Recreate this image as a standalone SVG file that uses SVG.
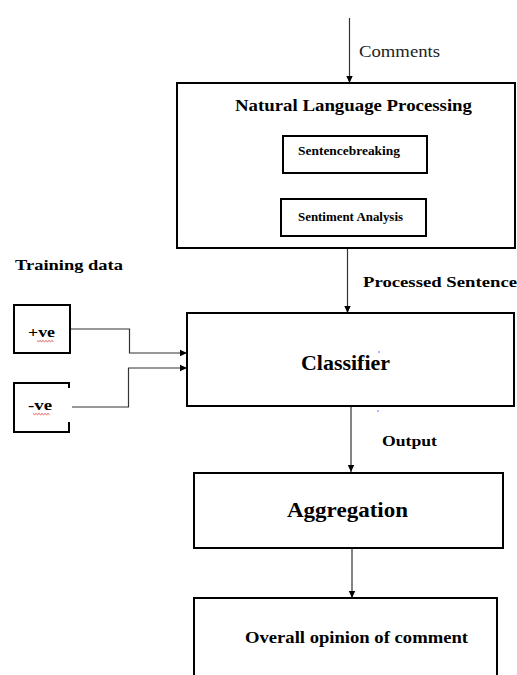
<svg xmlns="http://www.w3.org/2000/svg" width="517" height="675" viewBox="0 0 517 675">
<style>
.box{fill:#fff;stroke:#000;stroke-width:2}
.sub{fill:#fff;stroke:#000;stroke-width:2}
.ln{fill:none;stroke:#333;stroke-width:1.2}
.t{font-family:"Liberation Serif","Times New Roman",serif;font-weight:bold;fill:#000}
.n{font-family:"Liberation Serif","Times New Roman",serif;fill:#222}
.sq{fill:none;stroke:#e03030;stroke-width:0.8}
</style>
<defs>
<marker id="ah" markerWidth="8" markerHeight="8" refX="7" refY="4" orient="auto" markerUnits="userSpaceOnUse">
<path d="M0,0.8 L7,4 L0,7.2 Z" fill="#000"/>
</marker>
</defs>
<rect width="517" height="675" fill="#fff"/>
<g id="connectors">
<line class="ln" x1="349.5" y1="18" x2="349.5" y2="83" marker-end="url(#ah)"/>
<line class="ln" x1="347.5" y1="248" x2="347.5" y2="313" marker-end="url(#ah)"/>
<line class="ln" x1="351" y1="406" x2="351" y2="472" marker-end="url(#ah)"/>
<line class="ln" x1="352" y1="548" x2="352" y2="598" marker-end="url(#ah)"/>
<path class="ln" d="M70,329 H129.5 V353 H187" marker-end="url(#ah)"/>
<path class="ln" d="M72,407 H128.5 V368 H187" marker-end="url(#ah)"/>
</g>
<g id="comments-label"><text class="n" x="359" y="57" font-size="16" textLength="81" lengthAdjust="spacingAndGlyphs">Comments</text></g>
<g id="nlp">
<rect class="box" x="177" y="83" width="338" height="165"/>
<text class="t" x="235" y="111" font-size="16" textLength="237" lengthAdjust="spacingAndGlyphs">Natural Language Processing</text>
</g>
<g id="sentence-breaking">
<rect class="sub" x="283" y="136" width="144" height="37"/>
<text class="t" x="298" y="155" font-size="12" textLength="102" lengthAdjust="spacingAndGlyphs">Sentencebreaking</text>
</g>
<g id="sentiment-analysis">
<rect class="sub" x="281" y="199" width="145" height="37"/>
<text class="t" x="298" y="221" font-size="12" textLength="105" lengthAdjust="spacingAndGlyphs">Sentiment Analysis</text>
</g>
<g id="processed-label"><text class="t" x="363" y="287" font-size="15" textLength="154" lengthAdjust="spacingAndGlyphs">Processed Sentence</text></g>
<g id="training-label"><text class="t" x="15" y="270" font-size="15" textLength="108" lengthAdjust="spacingAndGlyphs">Training data</text></g>
<g id="pos">
<rect class="sub" x="14" y="305" width="56" height="48"/>
<text class="t" x="28" y="337" font-size="14" textLength="27" lengthAdjust="spacingAndGlyphs">+ve</text>
<path class="sq" d="M37,340.5 l1.5,1.2 l1.5,-1.2 l1.5,1.2 l1.5,-1.2 l1.5,1.2 l1.5,-1.2 l1.5,1.2 l1.5,-1.2 l1.5,1.2 l1.5,-1.2 l1.5,1.2"/>
</g>
<g id="neg">
<path class="sub" d="M69,388 V383 H14 V432 H69 V422"/>
<text class="t" x="28" y="410" font-size="14" textLength="24" lengthAdjust="spacingAndGlyphs">-ve</text>
<path class="sq" d="M33,413.5 l1.5,1.2 l1.5,-1.2 l1.5,1.2 l1.5,-1.2 l1.5,1.2 l1.5,-1.2 l1.5,1.2 l1.5,-1.2 l1.5,1.2 l1.5,-1.2 l1.5,1.2"/>
</g>
<g id="classifier">
<rect class="box" x="187" y="313" width="327" height="93"/>
<text class="t" x="301" y="370" font-size="22" textLength="89" lengthAdjust="spacingAndGlyphs">Classifier</text>
<circle cx="379" cy="352" r="0.7" fill="#3030ff"/>
<circle cx="378" cy="411" r="0.7" fill="#3030ff"/>
</g>
<g id="output-label"><text class="t" x="382" y="446" font-size="15" textLength="55" lengthAdjust="spacingAndGlyphs">Output</text></g>
<g id="aggregation">
<rect class="box" x="194" y="473" width="309" height="75"/>
<text class="t" x="287" y="517" font-size="22" textLength="121" lengthAdjust="spacingAndGlyphs">Aggregation</text>
</g>
<g id="overall">
<rect class="box" x="194" y="598" width="303" height="90"/>
<text class="t" x="245" y="643" font-size="16" textLength="223" lengthAdjust="spacingAndGlyphs">Overall opinion of comment</text>
</g>
</svg>
